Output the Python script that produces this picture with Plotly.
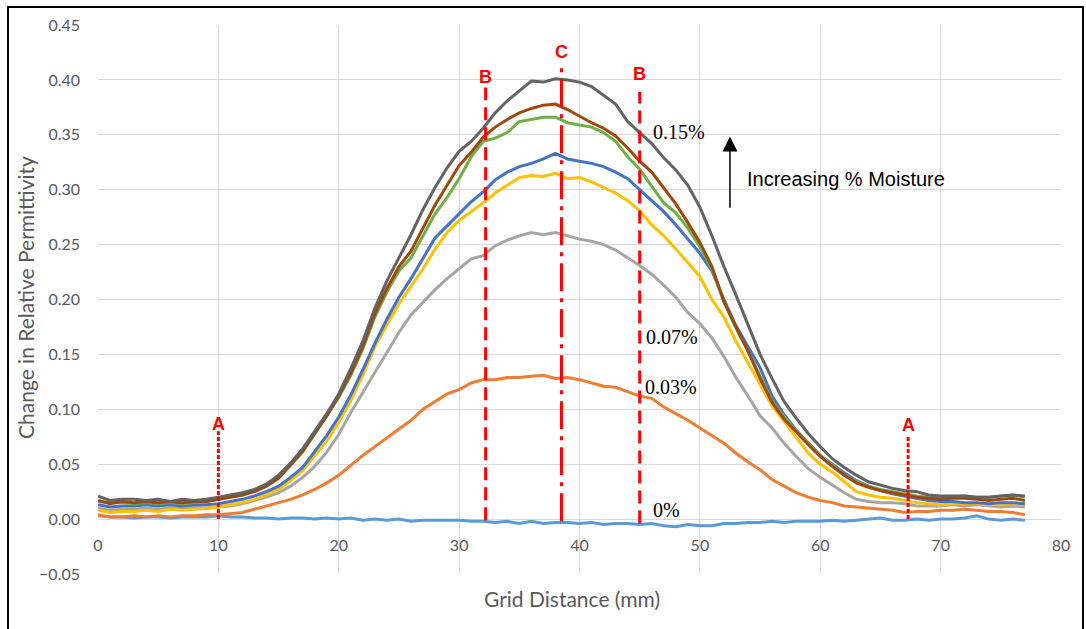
import plotly.graph_objects as go

# ---------------- data ----------------
grid_mm = list(range(0, 78))

moist_000 = [0.003, 0.002, 0.002, 0.001, 0.002, 0.002, 0.001, 0.002, 0.002, 0.002,
             0.003, 0.002, 0.002, 0.001, 0.001, 0.000, 0.001, 0.001, 0.000, 0.001,
             0.000, 0.001, -0.001, 0.000, -0.001, 0.000, -0.002, -0.001, -0.001, -0.001,
             -0.001, -0.002, -0.002, -0.003, -0.002, -0.004, -0.002, -0.004, -0.003, -0.003,
             -0.004, -0.003, -0.005, -0.004, -0.004, -0.005, -0.004, -0.006, -0.007, -0.005,
             -0.006, -0.006, -0.004, -0.004, -0.003, -0.003, -0.002, -0.003, -0.002, -0.002,
             -0.002, -0.001, -0.002, -0.001, 0.000, 0.001, -0.001, -0.001, 0.000, -0.001,
             0.000, 0.000, 0.001, 0.003, 0.000, -0.001, 0.000, -0.001]

moist_003 = [0.004, 0.002, 0.002, 0.003, 0.002, 0.003, 0.002, 0.003, 0.003, 0.004,
             0.004, 0.005, 0.006, 0.009, 0.012, 0.015, 0.018, 0.022, 0.027, 0.033,
             0.040, 0.049, 0.058, 0.066, 0.074, 0.082, 0.090, 0.100, 0.107, 0.114,
             0.118, 0.124, 0.127, 0.127, 0.129, 0.129, 0.130, 0.131, 0.128, 0.129,
             0.127, 0.124, 0.121, 0.120, 0.116, 0.112, 0.110, 0.102, 0.096, 0.090,
             0.083, 0.076, 0.069, 0.060, 0.052, 0.045, 0.036, 0.030, 0.024, 0.020,
             0.017, 0.015, 0.012, 0.011, 0.010, 0.009, 0.008, 0.006, 0.007, 0.007,
             0.008, 0.008, 0.009, 0.008, 0.007, 0.007, 0.006, 0.004]

moist_007 = [0.010, 0.008, 0.009, 0.009, 0.010, 0.009, 0.010, 0.010, 0.011, 0.010,
             0.011, 0.012, 0.014, 0.017, 0.020, 0.024, 0.030, 0.038, 0.048, 0.061,
             0.077, 0.097, 0.115, 0.133, 0.151, 0.170, 0.186, 0.198, 0.209, 0.219,
             0.228, 0.237, 0.240, 0.249, 0.254, 0.258, 0.261, 0.259, 0.261, 0.258,
             0.255, 0.253, 0.250, 0.245, 0.238, 0.231, 0.223, 0.213, 0.202, 0.188,
             0.178, 0.165, 0.148, 0.129, 0.112, 0.094, 0.083, 0.069, 0.057, 0.046,
             0.038, 0.031, 0.024, 0.018, 0.016, 0.015, 0.015, 0.014, 0.012, 0.012,
             0.012, 0.013, 0.012, 0.013, 0.012, 0.011, 0.012, 0.011]

moist_009 = [0.008, 0.006, 0.007, 0.007, 0.008, 0.007, 0.009, 0.008, 0.009, 0.010,
             0.011, 0.013, 0.015, 0.018, 0.022, 0.027, 0.035, 0.044, 0.057, 0.071,
             0.088, 0.108, 0.131, 0.157, 0.177, 0.196, 0.212, 0.228, 0.246, 0.261,
             0.272, 0.280, 0.288, 0.297, 0.304, 0.311, 0.313, 0.312, 0.315, 0.310,
             0.311, 0.307, 0.302, 0.297, 0.290, 0.281, 0.268, 0.258, 0.246, 0.233,
             0.221, 0.200, 0.184, 0.162, 0.142, 0.122, 0.103, 0.089, 0.074, 0.060,
             0.050, 0.043, 0.034, 0.025, 0.022, 0.020, 0.019, 0.017, 0.015, 0.014,
             0.013, 0.014, 0.014, 0.014, 0.013, 0.013, 0.014, 0.013]

moist_011 = [0.013, 0.011, 0.012, 0.012, 0.013, 0.012, 0.013, 0.012, 0.013, 0.013,
             0.014, 0.016, 0.018, 0.021, 0.025, 0.030, 0.038, 0.047, 0.061, 0.076,
             0.093, 0.113, 0.136, 0.160, 0.182, 0.202, 0.219, 0.238, 0.256, 0.267,
             0.278, 0.289, 0.298, 0.309, 0.316, 0.321, 0.324, 0.328, 0.333, 0.328,
             0.326, 0.324, 0.321, 0.316, 0.310, 0.300, 0.290, 0.280, 0.268, 0.255,
             0.242, 0.226, 0.200, 0.176, 0.157, 0.138, 0.112, 0.095, 0.081, 0.069,
             0.058, 0.050, 0.042, 0.035, 0.030, 0.026, 0.023, 0.021, 0.019, 0.017,
             0.016, 0.016, 0.015, 0.015, 0.014, 0.015, 0.015, 0.014]

moist_012 = [0.016, 0.015, 0.015, 0.014, 0.015, 0.014, 0.015, 0.014, 0.015, 0.016,
             0.018, 0.020, 0.022, 0.026, 0.031, 0.038, 0.049, 0.061, 0.077, 0.094,
             0.111, 0.131, 0.155, 0.184, 0.207, 0.226, 0.238, 0.258, 0.278, 0.293,
             0.310, 0.330, 0.344, 0.347, 0.352, 0.362, 0.364, 0.366, 0.366, 0.361,
             0.359, 0.357, 0.352, 0.344, 0.330, 0.319, 0.303, 0.288, 0.279, 0.265,
             0.248, 0.228, 0.198, 0.174, 0.153, 0.131, 0.108, 0.093, 0.080, 0.069,
             0.058, 0.049, 0.040, 0.034, 0.030, 0.027, 0.025, 0.023, 0.021, 0.020,
             0.020, 0.020, 0.021, 0.020, 0.020, 0.021, 0.022, 0.020]

moist_013 = [0.017, 0.014, 0.016, 0.015, 0.016, 0.015, 0.016, 0.015, 0.016, 0.016,
             0.018, 0.020, 0.022, 0.025, 0.030, 0.037, 0.049, 0.062, 0.078, 0.094,
             0.112, 0.133, 0.157, 0.187, 0.210, 0.230, 0.244, 0.265, 0.286, 0.304,
             0.322, 0.334, 0.348, 0.357, 0.364, 0.370, 0.374, 0.377, 0.378, 0.373,
             0.367, 0.361, 0.356, 0.349, 0.338, 0.326, 0.316, 0.302, 0.287, 0.270,
             0.252, 0.230, 0.198, 0.175, 0.153, 0.128, 0.106, 0.091, 0.079, 0.068,
             0.057, 0.048, 0.040, 0.033, 0.029, 0.026, 0.024, 0.022, 0.020, 0.019,
             0.018, 0.019, 0.019, 0.018, 0.017, 0.018, 0.019, 0.017]

moist_015 = [0.021, 0.017, 0.018, 0.018, 0.017, 0.018, 0.016, 0.018, 0.017, 0.018,
             0.020, 0.022, 0.024, 0.027, 0.032, 0.040, 0.051, 0.064, 0.080, 0.096,
             0.114, 0.137, 0.162, 0.192, 0.217, 0.238, 0.259, 0.282, 0.302, 0.320,
             0.335, 0.344, 0.356, 0.370, 0.381, 0.390, 0.399, 0.398, 0.401, 0.400,
             0.398, 0.394, 0.386, 0.378, 0.362, 0.352, 0.342, 0.329, 0.318, 0.304,
             0.284, 0.258, 0.230, 0.204, 0.177, 0.150, 0.128, 0.107, 0.092, 0.078,
             0.066, 0.055, 0.047, 0.040, 0.034, 0.031, 0.028, 0.026, 0.025, 0.022,
             0.021, 0.021, 0.021, 0.020, 0.020, 0.021, 0.022, 0.021]

series = [moist_000, moist_003, moist_007, moist_009,
          moist_011, moist_012, moist_013, moist_015]
series_colors = ["#5B9BD5", "#ED7D31", "#A5A5A5", "#FFC000",
                 "#4472C4", "#70AD47", "#9E480E", "#636363"]

# reference lines A / B / C : position, top value, bottom value
ref_labels = ["A", "B", "C", "B", "A"]
ref_x = [10.0, 32.2, 38.5, 45.0, 67.3]
ref_top = [0.080, 0.393, 0.417, 0.389, 0.076]
ref_bottom = [0.0, -0.001, -0.002, -0.004, 0.0]
ref_label_y = [0.087, 0.403, 0.425, 0.405, 0.086]
ref_dash = ["4px,2px", "13px,7px", "28px,7px,4px,7px", "13px,7px", "4px,2px"]

# curve labels
curve_labels = ["0.15%", "0.07%", "0.03%", "0%"]
curve_label_x = [48.3, 47.7, 47.6, 47.2]
curve_label_y = [0.353, 0.166, 0.120, 0.0085]

# ---------------- layout geometry ----------------
W, H = 1086, 629
ML, MR, MT, MB = 98, 25, 25, 55
PW, PH = W - ML - MR, H - MT - MB


def paper_x(px):
    return (px - ML) / PW


def paper_y(py):
    return (H - MB - py) / PH


fig = go.Figure()

for vals, col in zip(series, series_colors):
    fig.add_trace(go.Scatter(x=grid_mm, y=vals, mode="lines",
                             line=dict(color=col, width=3),
                             showlegend=False, hoverinfo="skip"))

shapes = []
annotations = []

for lab, xv, yt, yb, ly, dsh in zip(ref_labels, ref_x, ref_top, ref_bottom,
                                     ref_label_y, ref_dash):
    shapes.append(dict(type="line", xref="x", yref="y", x0=xv, x1=xv, y0=yb, y1=yt,
                       line=dict(color="#FF0000", width=3, dash=dsh)))
    annotations.append(dict(x=xv, y=ly, xref="x", yref="y", text=lab, showarrow=False,
                            font=dict(family="Liberation Sans", size=18, color="#FF0000",
                                      weight="bold"),
                            xanchor="center", yanchor="middle"))

for t, xv, yv in zip(curve_labels, curve_label_x, curve_label_y):
    annotations.append(dict(x=xv, y=yv, xref="x", yref="y", text=t, showarrow=False,
                            font=dict(family="Liberation Serif", size=20, color="#000000"),
                            xanchor="center", yanchor="middle"))

# "Increasing % Moisture" arrow and text
annotations.append(dict(x=52.5, y=0.3485, ax=52.5, ay=0.2823, xref="x", yref="y",
                        axref="x", ayref="y", text="", showarrow=True,
                        arrowhead=2, arrowsize=2, arrowwidth=1.5, arrowcolor="#000000"))
annotations.append(dict(x=53.75, y=0.31, xref="x", yref="y", text="Increasing % Moisture",
                        showarrow=False, xanchor="left", yanchor="middle",
                        font=dict(family="Liberation Sans", size=20, color="#000000")))

# axis titles
annotations.append(dict(x=paper_x(571.5), y=paper_y(598), xref="paper", yref="paper",
                        text="Grid Distance (mm)", showarrow=False,
                        xanchor="center", yanchor="middle",
                        font=dict(family="Lato", size=21, color="#595959")))
annotations.append(dict(x=paper_x(25), y=paper_y(298), xref="paper", yref="paper",
                        text="Change in Relative Permittivity", showarrow=False,
                        textangle=-90, xanchor="center", yanchor="middle",
                        font=dict(family="Lato", size=21, color="#595959")))

# outer frame
shapes.append(dict(type="rect", xref="paper", yref="paper",
                   x0=paper_x(8), x1=paper_x(1083), y0=paper_y(640), y1=paper_y(7),
                   line=dict(color="#000000", width=2), fillcolor="rgba(0,0,0,0)",
                   layer="above"))

fig.update_layout(
    width=W, height=H,
    margin=dict(l=ML, r=MR, t=MT, b=MB),
    paper_bgcolor="white", plot_bgcolor="white",
    font=dict(family="Lato", color="#595959"),
    shapes=shapes, annotations=annotations,
    xaxis=dict(range=[0, 80], dtick=10, tick0=0, showgrid=True, gridcolor="#D9D9D9",
               gridwidth=1, zeroline=False, showline=False, ticks="",
               anchor="free", position=0.1, ticklabelstandoff=15,
               tickfont=dict(family="Lato", size=16, color="#595959")),
    yaxis=dict(range=[-0.05, 0.45], dtick=0.05, tick0=0, showgrid=True,
               gridcolor="#D9D9D9", gridwidth=1, zeroline=False, showline=False,
               ticks="", tickformat=".2f", ticklabelstandoff=17,
               tickfont=dict(family="Lato", size=16, color="#595959")),
)

fig.write_html("out.html")
